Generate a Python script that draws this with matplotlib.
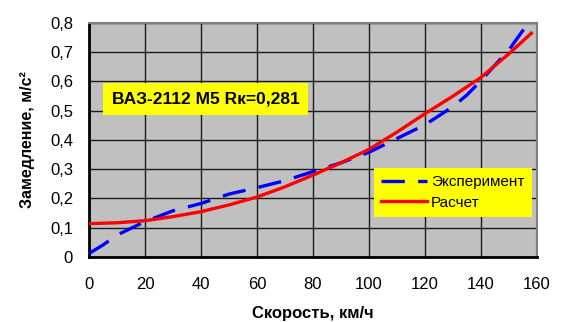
import matplotlib
matplotlib.use("Agg")
import matplotlib.pyplot as plt
from matplotlib.ticker import FuncFormatter

plt.rcParams['font.family'] = ['Liberation Sans', 'DejaVu Sans']

# Data
speed_exp = [0, 5, 10, 20, 30, 40, 50, 60, 70, 80, 90, 100, 110, 120, 130, 135, 140, 145, 150, 155, 160]
decel_exp = [0.012, 0.041, 0.075, 0.121, 0.158, 0.183, 0.215, 0.237, 0.261, 0.292, 0.322, 0.358, 0.405, 0.452, 0.514, 0.554, 0.603, 0.656, 0.708, 0.775, 0.83]
speed_calc = [0, 10, 20, 30, 40, 50, 60, 70, 80, 90, 100, 110, 120, 130, 140, 150, 158]
decel_calc = [0.114, 0.117, 0.124, 0.138, 0.155, 0.178, 0.205, 0.24, 0.28, 0.322, 0.368, 0.427, 0.49, 0.55, 0.614, 0.695, 0.765]
x_ticks = [0, 20, 40, 60, 80, 100, 120, 140, 160]
y_ticks = [0, 0.1, 0.2, 0.3, 0.4, 0.5, 0.6, 0.7, 0.8]
label_exp = "Эксперимент"
label_calc = "Расчет"
title_text = "ВАЗ-2112 М5 Rк=0,281"
xlabel = "Скорость, км/ч"
ylabel = "Замедление, м/с²"

fig = plt.figure(figsize=(5.65, 3.22), dpi=100)
ax = fig.add_axes([0.1575, 0.2019, 0.7929, 0.7267])
ax.set_facecolor('#C0C0C0')

ax.plot(speed_exp, decel_exp, color='#0000FF', lw=2.4, dashes=(7, 4), label=label_exp, zorder=3)
ax.plot(speed_calc, decel_calc, color='#FF0000', lw=2.4, label=label_calc, zorder=4)

ax.set_xlim(0, 160)
ax.set_ylim(0, 0.8)
ax.set_xticks(x_ticks)
ax.set_yticks(y_ticks)
ax.xaxis.set_major_formatter(FuncFormatter(lambda v, p: f"{v:g}"))
ax.yaxis.set_major_formatter(FuncFormatter(lambda v, p: "0" if abs(v) < 1e-9 else f"{v:.1f}".replace('.', ',')))
ax.tick_params(axis='both', length=0, labelsize=12, colors='black')
ax.tick_params(axis='x', pad=14.5)
ax.tick_params(axis='y', pad=11.5)
ax.grid(True, color='#1a1a1a', lw=1.0)
ax.set_axisbelow(True)

for s in ['left', 'bottom']:
    ax.spines[s].set_color('black')
    ax.spines[s].set_linewidth(2.0)
for s in ['top', 'right']:
    ax.spines[s].set_color('#808080')
    ax.spines[s].set_linewidth(1.5)

ax.set_xlabel(xlabel, fontsize=12, fontweight='bold', labelpad=10)
ax.set_ylabel(ylabel, fontsize=11.5, fontweight='bold', labelpad=11)

ax.text(0.261, 0.675, title_text, transform=ax.transAxes, ha='center', va='center',
        fontsize=12.5, fontweight='bold',
        bbox=dict(boxstyle='square,pad=0.5', facecolor='#FFFF00', edgecolor='none'), zorder=5)

leg = ax.legend(loc='upper left', bbox_to_anchor=(0.636, 0.380), borderaxespad=0,
                frameon=True, facecolor='#FFFF00', edgecolor='none', fancybox=False,
                framealpha=1, fontsize=11, handlelength=3.0, handletextpad=0.3,
                labelspacing=0.45, borderpad=0.45)
leg.set_zorder(6)

fig.savefig('out.png', dpi=100)
